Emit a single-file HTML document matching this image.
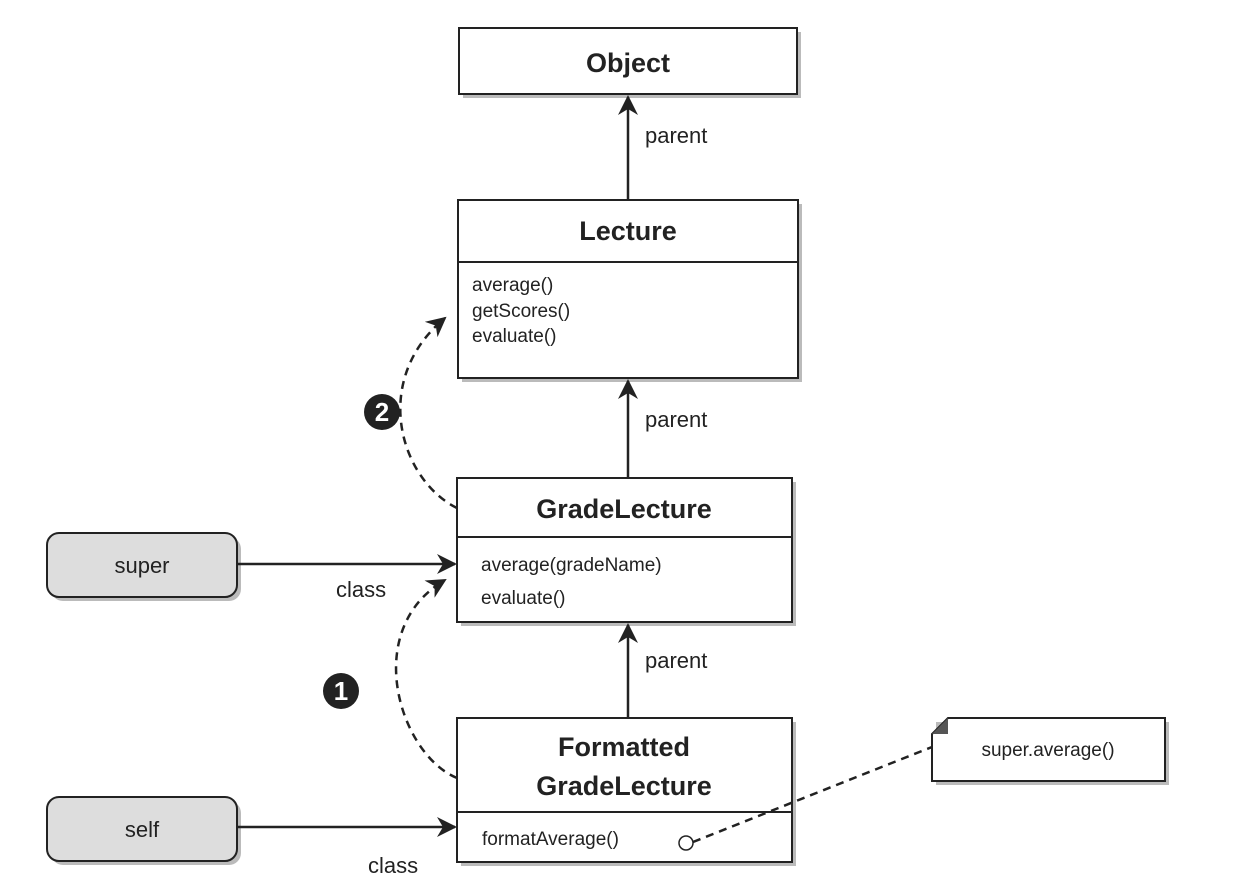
<!DOCTYPE html>
<html><head><meta charset="utf-8"><style>
html,body{margin:0;padding:0;background:#fff;}
svg{display:block;}
text{font-family:"Liberation Sans","DejaVu Sans",sans-serif;fill:#222;}
.t{font-weight:bold;font-size:27px;}
.m{font-size:19px;}
.l{font-size:22px;}
</style></head><body>
<svg width="1244" height="896" viewBox="0 0 1244 896" xmlns="http://www.w3.org/2000/svg">
<defs>
<marker id="a" viewBox="0 0 10 10" refX="9" refY="5" markerWidth="8" markerHeight="8" markerUnits="userSpaceOnUse" orient="auto"><path d="M0,0 L10,5 L0,10 L3,5 z" fill="#222"/></marker>
<marker id="b" viewBox="0 0 10 10" refX="9" refY="5" markerWidth="20" markerHeight="20" markerUnits="userSpaceOnUse" orient="auto"><path d="M0,0 L10,5 L0,10 L3,5 z" fill="#222"/></marker>
</defs>
<g fill="#bbb">
<rect x="463" y="32" width="338" height="66"/>
<rect x="462" y="204" width="340" height="178"/>
<rect x="461" y="482" width="335" height="144"/>
<rect x="461" y="722" width="335" height="144"/>
<rect x="936" y="722" width="233" height="63"/>
<rect x="51" y="537" width="190" height="64" rx="12"/>
<rect x="51" y="801" width="190" height="64" rx="12"/>
</g>
<g fill="#fff" stroke="#222" stroke-width="2">
<rect x="459" y="28" width="338" height="66"/>
<rect x="458" y="200" width="340" height="178"/>
<line x1="458" y1="262" x2="798" y2="262"/>
<rect x="457" y="478" width="335" height="144"/>
<line x1="457" y1="537" x2="792" y2="537"/>
<rect x="457" y="718" width="335" height="144"/>
<line x1="457" y1="812" x2="792" y2="812"/>
<path d="M948,718 L1165,718 L1165,781 L932,781 L932,734 Z"/>
</g>
<path d="M932,734 L948,718 L948,734 Z" fill="#555"/>
<rect x="47" y="533" width="190" height="64" rx="12" fill="#ddd" stroke="#222" stroke-width="2"/>
<rect x="47" y="797" width="190" height="64" rx="12" fill="#ddd" stroke="#222" stroke-width="2"/>

<text class="t" x="628" y="72" text-anchor="middle">Object</text>
<text class="t" x="628" y="240" text-anchor="middle">Lecture</text>
<text class="m" x="472" y="291">average()</text>
<text class="m" x="472" y="317">getScores()</text>
<text class="m" x="472" y="342">evaluate()</text>
<text class="t" x="624" y="518" text-anchor="middle">GradeLecture</text>
<text class="m" x="481" y="571">average(gradeName)</text>
<text class="m" x="481" y="604">evaluate()</text>
<text class="t" x="624" y="756" text-anchor="middle">Formatted</text>
<text class="t" x="624" y="795" text-anchor="middle">GradeLecture</text>
<text class="m" x="482" y="845">formatAverage()</text>
<circle cx="686" cy="843" r="7" fill="none" stroke="#222" stroke-width="1.5"/>
<text class="m" x="1048" y="756" text-anchor="middle">super.average()</text>
<text class="l" x="142" y="573" text-anchor="middle">super</text>
<text class="l" x="142" y="837" text-anchor="middle">self</text>

<g stroke="#222" stroke-width="2.5" fill="none">
<line x1="628" y1="200" x2="628" y2="97" marker-end="url(#b)"/>
<line x1="628" y1="478" x2="628" y2="381" marker-end="url(#b)"/>
<line x1="628" y1="718" x2="628" y2="625" marker-end="url(#b)"/>
<line x1="237" y1="564" x2="455" y2="564" marker-end="url(#b)"/>
<line x1="237" y1="827" x2="455" y2="827" marker-end="url(#b)"/>
</g>
<g stroke="#222" stroke-width="2.5" fill="none" stroke-dasharray="8,6">
<path d="M457,508 C400,480 370,380 445,318" marker-end="url(#b)"/>
<path d="M457,778 C400,755 360,630 445,580" marker-end="url(#b)"/>
<path d="M693,842 L932,747"/>
</g>
<text class="l" x="645" y="143">parent</text>
<text class="l" x="645" y="427">parent</text>
<text class="l" x="645" y="668">parent</text>
<text class="l" x="336" y="597">class</text>
<text class="l" x="368" y="873">class</text>
<circle cx="382" cy="412" r="18" fill="#222"/>
<text x="382" y="421" text-anchor="middle" style="font-size:26px;font-weight:bold;fill:#fff">2</text>
<circle cx="341" cy="691" r="18" fill="#222"/>
<text x="341" y="700" text-anchor="middle" style="font-size:26px;font-weight:bold;fill:#fff">1</text>
</svg>
</body></html>
